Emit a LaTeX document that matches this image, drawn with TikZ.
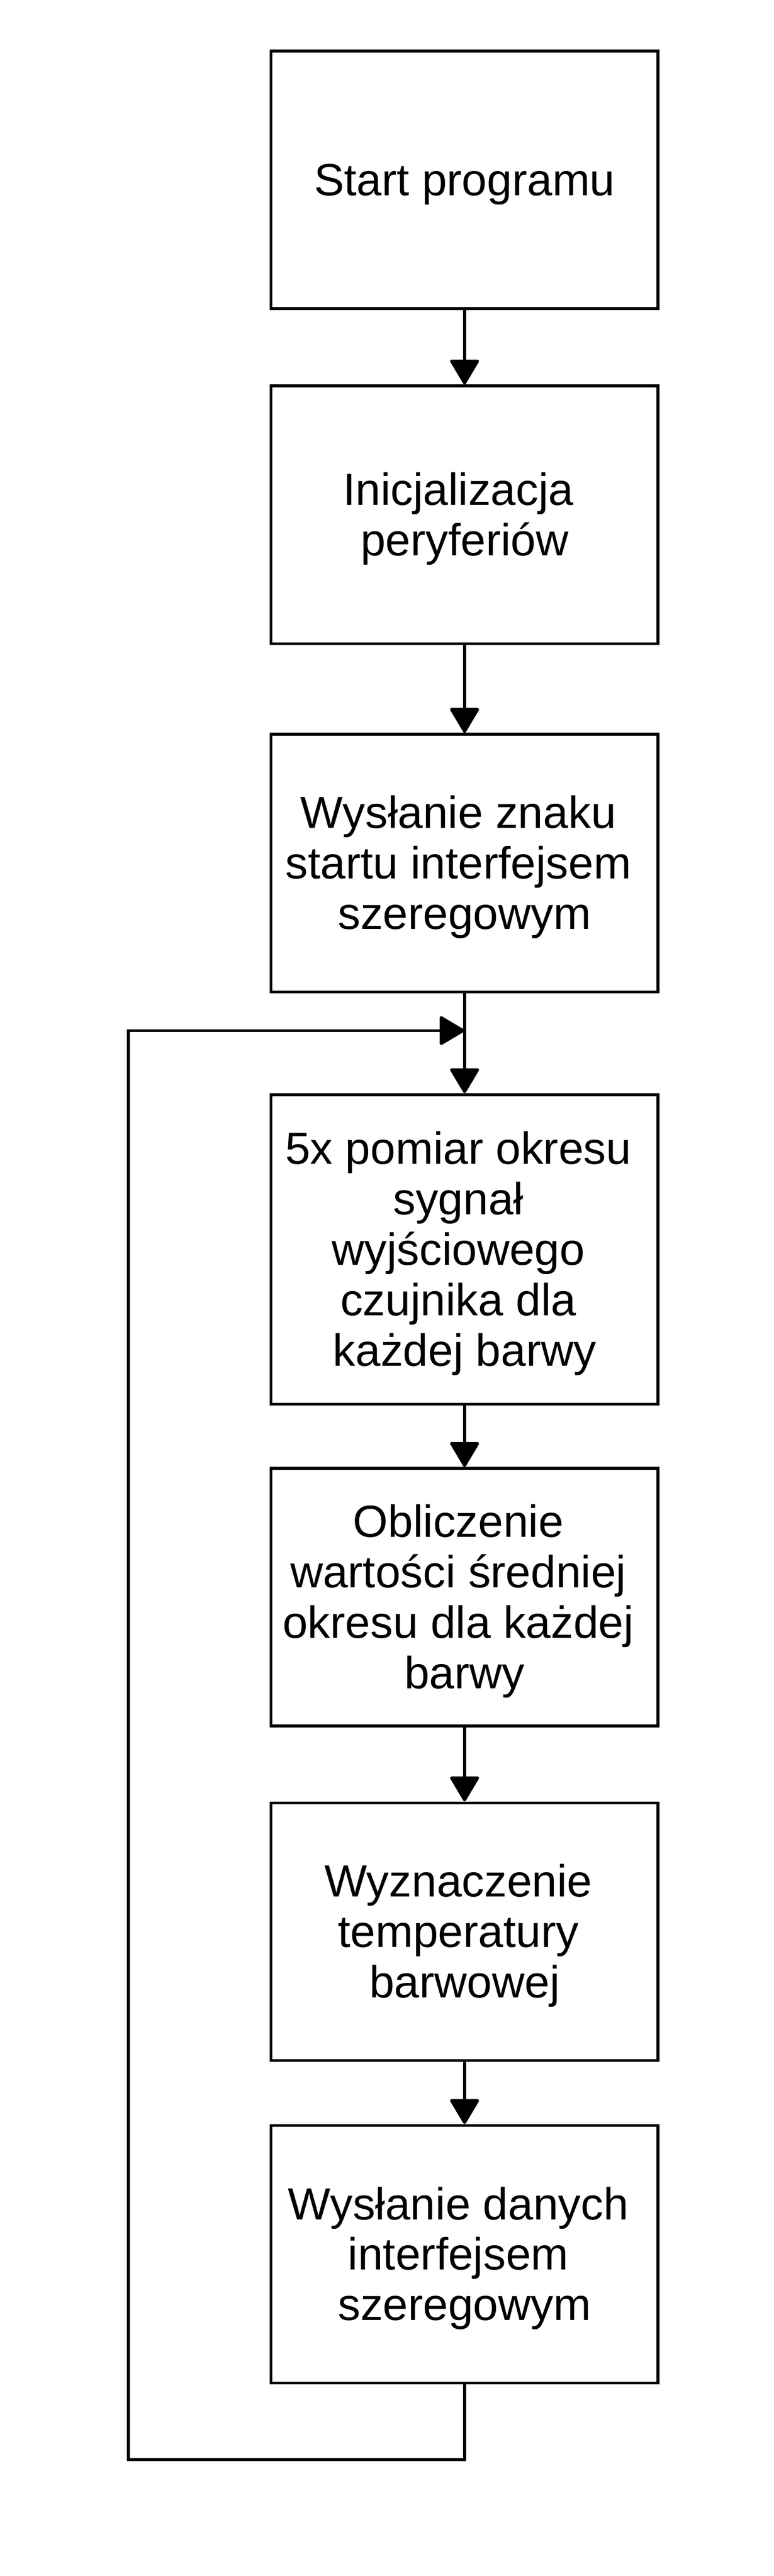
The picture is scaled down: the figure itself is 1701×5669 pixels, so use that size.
\documentclass[tikz,border=0pt]{standalone}
\usepackage{fontspec}
\setmainfont{Liberation Sans}
\usetikzlibrary{arrows.meta}
\newcommand\tsp{\hbox to 0.278em{}}
\newcommand\lnstrut{\rule[-10.5pt]{0pt}{55.4pt}}
\begin{document}
\begin{tikzpicture}[x=0.5pt,y=-0.5pt,
  box/.style={draw, line width=3.2pt, rectangle, minimum width=425.5pt,
    minimum height=#1, inner sep=0pt, align=center,
    font=\fontsize{49.6pt}{55.5pt}\selectfont},
  box/.default=283.5pt,
  conn/.style={line width=3.2pt, -{Triangle[length=29pt,width=33.5pt,round]}},
  line/.style={line width=3.2pt}]
\useasboundingbox (0,0) rectangle (1701,5669);
\node[box] (n1) at (1021.5,396) {Start programu\lnstrut};
\node[box] (n2) at (1021.5,1133) {Inicjalizacja\tsp\lnstrut\\peryferiów\lnstrut};
\node[box] (n3) at (1021.5,1899.5) {Wysłanie znaku\tsp\lnstrut\\startu interfejsem\tsp\lnstrut\\szeregowym\lnstrut};
\node[box=340.5pt] (n4) at (1021.5,2749.5) {5x pomiar okresu\tsp\lnstrut\\sygnał\tsp\lnstrut\\wyjściowego\tsp\lnstrut\\czujnika dla\tsp\lnstrut\\każdej barwy\lnstrut};
\node[box] (n5) at (1021.5,3515) {Obliczenie\tsp\lnstrut\\wartości średniej\tsp\lnstrut\\okresu dla każdej\tsp\lnstrut\\barwy\lnstrut};
\node[box] (n6) at (1021.5,4251) {Wyznaczenie\tsp\lnstrut\\temperatury\tsp\lnstrut\\barwowej\lnstrut};
\node[box] (n7) at (1021.5,4961) {Wysłanie danych\tsp\lnstrut\\interfejsem\tsp\lnstrut\\szeregowym\lnstrut};
\coordinate (j) at (1021.5,2268);
\coordinate (tl) at (282,2268);
\coordinate (bl) at (282,5413);
\coordinate (br) at (1021.5,5413);
\draw[conn] (n1) -- (n2);
\draw[conn] (n2) -- (n3);
\draw[conn] (n3) -- (n4);
\draw[conn] (n4) -- (n5);
\draw[conn] (n5) -- (n6);
\draw[conn] (n6) -- (n7);
\draw[conn] (n7.south) -- (br) -- (bl) -- (tl) -- (j);
\end{tikzpicture}
\end{document}
